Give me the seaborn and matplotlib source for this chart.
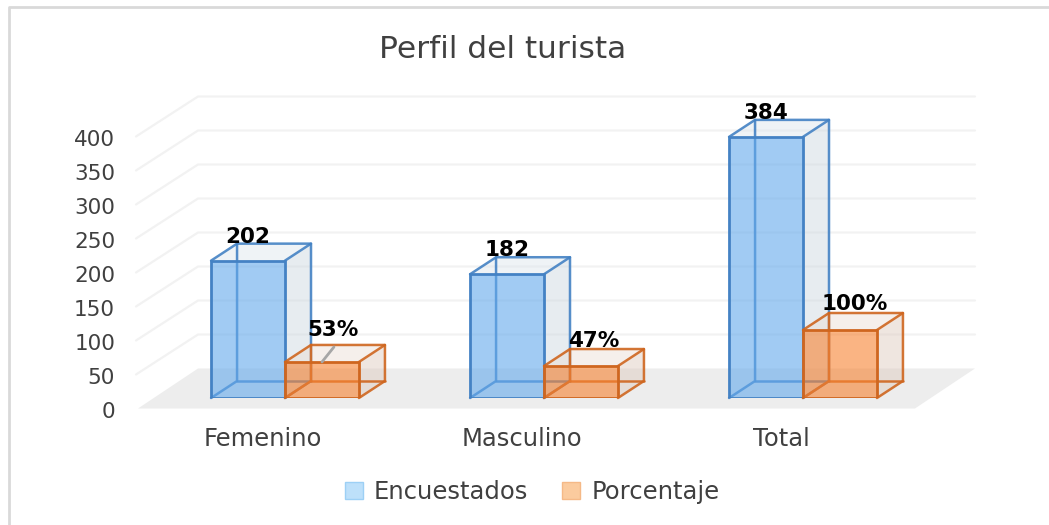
import pandas as pd
import matplotlib
matplotlib.use("Agg")
import matplotlib.pyplot as plt
from matplotlib.colors import to_rgba
import seaborn as sns
from matplotlib.lines import Line2D
from matplotlib.patches import Polygon, Patch
from matplotlib.transforms import ScaledTranslation

# data
categories = ["Femenino", "Masculino", "Total"]
encuestados = [202, 182, 384]
porcentaje = [53, 47, 100]
yticks = [0, 50, 100, 150, 200, 250, 300, 350, 400]

W, H = 1049, 525
BLUE, BLUE_EDGE = "#63A9EC", "#4482C4"
ORANGE, ORANGE_EDGE = "#F78230", "#CF661F"
TEXT = "#404040"
DX, DY = 26, 17      # depth of the boxes, pixels
WALL_DX, WALL_DY = 60, 40  # depth of the floor, pixels
FRONT_DROP = 10.5    # floor front edge sits below the bars' front

sns.set_theme(style="white")
plt.rcParams["font.family"] = ["DejaVu Sans"]

df = pd.DataFrame({
    "cat": categories * 2,
    "serie": ["Encuestados"] * 3 + ["Porcentaje"] * 3,
    "valor": encuestados + porcentaje,
})

fig = plt.figure(figsize=(W / 100, H / 100), dpi=100)
ax = fig.add_axes([138 / W, 1 - 398 / H, (975 - 138) / W, 272 / H])

sns.barplot(data=df, x="cat", y="valor", hue="serie", ax=ax, width=0.571, gap=0,
            palette=[BLUE, ORANGE], saturation=1, legend=False)
ax.set_xlim(-(285 - 138) / 259, (975 - 285) / 259)
ax.set_ylim(0, 400)
ax.set_xlabel("")
ax.set_ylabel("")
ax.set_yticks(yticks)
sns.despine(ax=ax, left=True, bottom=True)
ax.patch.set_visible(False)
ax.tick_params(axis="both", length=0, labelsize=15.5, labelcolor=TEXT)
ax.tick_params(axis="y", pad=16.5)
ax.tick_params(axis="x", pad=21, labelsize=17.5)

# shift tick labels the way the 3D chart has them
for lab in ax.get_yticklabels():
    lab.set_transform(lab.get_transform() + ScaledTranslation(0, -12 / 100, fig.dpi_scale_trans))
for lab in ax.get_xticklabels():
    lab.set_transform(lab.get_transform() + ScaledTranslation(-22 / 100, 0, fig.dpi_scale_trans))

fig.canvas.draw()
to_px = ax.transData.transform


def add_poly(points, z, **kw):
    p = Polygon(points, closed=True, transform=None, clip_on=False, zorder=z, **kw)
    ax.add_patch(p)


def add_line(xs, ys, z, **kw):
    ax.add_line(Line2D(xs, ys, transform=None, clip_on=False, zorder=z, **kw))


# floor and back wall grid
x0, x1 = ax.get_xlim()
(fx0, fy), (fx1, _) = to_px([(x0, 0), (x1, 0)])
fy -= FRONT_DROP
add_poly([(fx0, fy), (fx1 - WALL_DX, fy), (fx1, fy + WALL_DY), (fx0 + WALL_DX, fy + WALL_DY)],
         0.5, facecolor="#EDEDED", edgecolor="none")
for t in yticks[1:]:
    y = to_px((0, t))[1] - FRONT_DROP
    add_line([fx0 - 2, fx0 + WALL_DX, fx1], [y, y + WALL_DY, y + WALL_DY], 0.6,
             color="#F2F2F2", lw=1.6)

# the boxes: back edges and side faces behind each seaborn bar
labels = [str(v) for v in encuestados] + [f"{v}%" for v in porcentaje]
label_off = [(0, 24), (0, 24), (0, 24), (11, 32), (13, 25), (15, 26)]
z = 2
for cont, color, edge in zip(ax.containers, [BLUE, ORANGE], [BLUE_EDGE, ORANGE_EDGE]):
    side = "#CBD6DF" if color == BLUE else "#DDC8BC"
    top = "#DCE5EC" if color == BLUE else "#EBDDD3"
    for bar in cont:
        (a, b) = to_px((bar.get_x(), 0))
        (c, d) = to_px((bar.get_x() + bar.get_width(), bar.get_height()))
        add_poly([(c, b), (c + DX, b + DY), (c + DX, d + DY), (c, d)], z,
                 facecolor=side, alpha=0.45, edgecolor="none")
        add_poly([(a, d), (a + DX, d + DY), (c + DX, d + DY), (c, d)], z,
                 facecolor=top, alpha=0.45, edgecolor="none")
        lw = dict(color=edge, lw=1.8, alpha=0.9, solid_joinstyle="round")
        add_line([a, a + DX, c + DX, c + DX, c], [d, d + DY, d + DY, b + DY, b], z, **lw)
        add_line([a, a + DX, a + DX], [b, b + DY, d + DY], z, **lw)
        add_line([a + DX, c + DX], [b + DY, b + DY], z, **lw)
        add_line([c, c + DX], [d, d + DY], z, **lw)
        bar.set_facecolor(to_rgba(color, 0.6))
        bar.set_edgecolor(to_rgba(edge, 1))
        bar.set_linewidth(2)
        bar.set_zorder(z + 0.5)
        z += 1

# data labels
bars = list(ax.containers[0]) + list(ax.containers[1])
for bar, txt, off in zip(bars, labels, label_off):
    ax.annotate(txt, (bar.get_x() + bar.get_width() / 2, bar.get_height()),
                xytext=(off[0] * 0.72, off[1] * 0.72), textcoords="offset points",
                ha="center", va="center", fontsize=15.5, fontweight="bold",
                color="black", zorder=20, annotation_clip=False)

# leader line of the 53% label
b53 = ax.containers[1][0]
lx, ly = to_px((b53.get_x() + b53.get_width() / 2, b53.get_height()))
add_line([lx, lx + 12], [ly, ly + 15], 15, color="#A6A6A6", lw=2)

fig.text(503 / W, 1 - 50 / H, "Perfil del turista", ha="center", va="center",
         fontsize=22.5, color=TEXT)

handles = [Patch(facecolor="#BDE0FA", edgecolor="#9DD0F5", label="Encuestados"),
           Patch(facecolor="#FBCB9E", edgecolor="#F5B987", label="Porcentaje")]
fig.legend(handles=handles, loc="center", bbox_to_anchor=(532 / W, 1 - 492 / H), ncol=2,
           frameon=False, fontsize=17.5, labelcolor=TEXT, handlelength=0.75, handleheight=0.75,
           handletextpad=0.45, columnspacing=1.4)

# chart frame, only top and left survive in the picture
fig.add_artist(Line2D([9 / W, 9 / W, 1], [0, 1 - 7 / H, 1 - 7 / H], color="#D9D9D9", lw=2))

fig.savefig("out.png", dpi=100)
